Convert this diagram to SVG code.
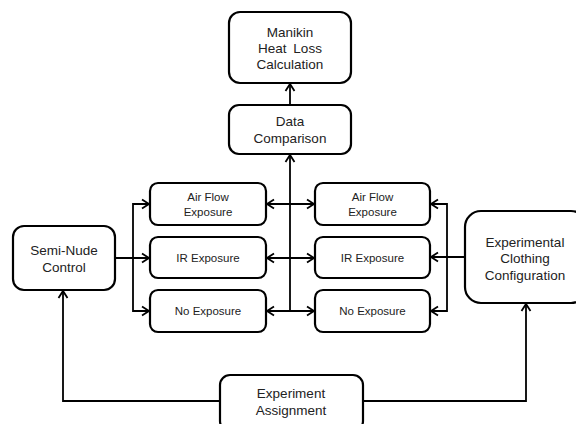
<svg xmlns="http://www.w3.org/2000/svg" width="576" height="424" viewBox="0 0 576 424">
<style>
.box{fill:#fff;stroke:#000;stroke-width:2.2}
.t{font-family:"Liberation Sans",Arial,sans-serif;font-size:13.5px;fill:#222;text-anchor:middle}
.s{font-family:"Liberation Sans",Arial,sans-serif;font-size:11.5px;fill:#222;text-anchor:middle}
.c{fill:none;stroke:#000;stroke-width:1.8}
</style>
<defs>
<marker id="a" markerUnits="userSpaceOnUse" markerWidth="12" markerHeight="12" refX="9" refY="6" orient="auto-start-reverse" viewBox="0 0 12 12">
<path d="M2,1.5 L9,6 L2,10.5" fill="none" stroke="#000" stroke-width="1.8"/>
</marker>
</defs>
<rect width="576" height="424" fill="#fff"/>
<g id="connectors">
<path class="c" d="M290,105 V84" marker-end="url(#a)"/>
<path class="c" d="M290,311 V155" marker-end="url(#a)"/>
<path class="c" d="M115,258 H149" marker-end="url(#a)"/>
<path class="c" d="M133,258 V204 H149" marker-end="url(#a)"/>
<path class="c" d="M133,258 V311 H149" marker-end="url(#a)"/>
<path class="c" d="M465,257 H431" marker-end="url(#a)"/>
<path class="c" d="M447,257 V204 H431" marker-end="url(#a)"/>
<path class="c" d="M447,257 V311 H431" marker-end="url(#a)"/>
<path class="c" d="M267,204 H314" marker-start="url(#a)" marker-end="url(#a)"/>
<path class="c" d="M267,258 H314" marker-start="url(#a)" marker-end="url(#a)"/>
<path class="c" d="M267,311 H314" marker-start="url(#a)" marker-end="url(#a)"/>
<path class="c" d="M220,401 H63 V291" marker-end="url(#a)"/>
<path class="c" d="M363,401 H526 V304" marker-end="url(#a)"/>
</g>
<g id="manikin">
<rect class="box" x="229" y="12" width="122" height="71" rx="11"/>
<text class="t" x="290" y="37">Manikin</text>
<text class="t" x="290" y="53" word-spacing="3">Heat Loss</text>
<text class="t" x="290" y="69">Calculation</text>
</g>
<g id="data-comparison">
<rect class="box" x="229" y="105" width="122" height="49" rx="10"/>
<text class="t" x="290" y="126">Data</text>
<text class="t" x="290" y="143">Comparison</text>
</g>
<g id="semi-nude">
<rect class="box" x="13" y="226" width="102" height="64" rx="11"/>
<text class="t" x="64" y="255">Semi-Nude</text>
<text class="t" x="64" y="272">Control</text>
</g>
<g id="experimental">
<rect class="box" x="465" y="211" width="122" height="92" rx="16"/>
<text class="t" x="525" y="247">Experimental</text>
<text class="t" x="525" y="263">Clothing</text>
<text class="t" x="525" y="280">Configuration</text>
</g>
<g id="left-airflow">
<rect class="box" x="150" y="183" width="116" height="42" rx="8"/>
<text class="s" x="208" y="201">Air Flow</text>
<text class="s" x="208" y="216">Exposure</text>
</g>
<g id="left-ir">
<rect class="box" x="150" y="237" width="116" height="41" rx="8"/>
<text class="s" x="208" y="262">IR Exposure</text>
</g>
<g id="left-no">
<rect class="box" x="150" y="290" width="116" height="42" rx="8"/>
<text class="s" x="208" y="315">No Exposure</text>
</g>
<g id="right-airflow">
<rect class="box" x="315" y="183" width="115" height="42" rx="8"/>
<text class="s" x="372.5" y="201">Air Flow</text>
<text class="s" x="372.5" y="216">Exposure</text>
</g>
<g id="right-ir">
<rect class="box" x="315" y="237" width="115" height="41" rx="8"/>
<text class="s" x="372.5" y="262">IR Exposure</text>
</g>
<g id="right-no">
<rect class="box" x="315" y="290" width="115" height="42" rx="8"/>
<text class="s" x="372.5" y="315">No Exposure</text>
</g>
<g id="experiment-assignment">
<rect class="box" x="220" y="375" width="143" height="56" rx="10"/>
<text class="t" x="291" y="398">Experiment</text>
<text class="t" x="291" y="415">Assignment</text>
</g>
</svg>
